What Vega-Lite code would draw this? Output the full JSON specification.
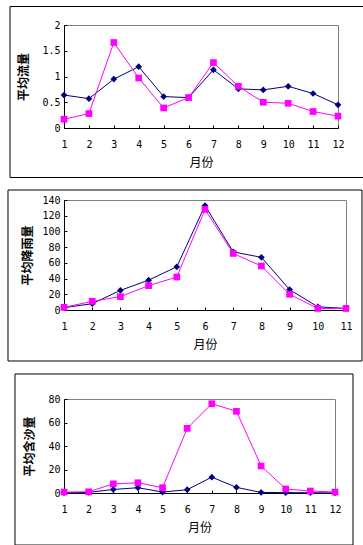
{
  "$schema": "https://vega.github.io/schema/vega-lite/v6.json",
  "padding": {"top": 5, "left": 6, "right": 0, "bottom": 0},
  "background": "white",
  "datasets": {
    "flow": [
      {"month": 1, "series": "系列1", "value": 0.64}, {"month": 2, "series": "系列1", "value": 0.57}, {"month": 3, "series": "系列1", "value": 0.95}, {"month": 4, "series": "系列1", "value": 1.19}, {"month": 5, "series": "系列1", "value": 0.61}, {"month": 6, "series": "系列1", "value": 0.59}, {"month": 7, "series": "系列1", "value": 1.13}, {"month": 8, "series": "系列1", "value": 0.76}, {"month": 9, "series": "系列1", "value": 0.74}, {"month": 10, "series": "系列1", "value": 0.81}, {"month": 11, "series": "系列1", "value": 0.67}, {"month": 12, "series": "系列1", "value": 0.45},
      {"month": 1, "series": "系列2", "value": 0.17}, {"month": 2, "series": "系列2", "value": 0.28}, {"month": 3, "series": "系列2", "value": 1.66}, {"month": 4, "series": "系列2", "value": 0.97}, {"month": 5, "series": "系列2", "value": 0.39}, {"month": 6, "series": "系列2", "value": 0.59}, {"month": 7, "series": "系列2", "value": 1.27}, {"month": 8, "series": "系列2", "value": 0.81}, {"month": 9, "series": "系列2", "value": 0.5}, {"month": 10, "series": "系列2", "value": 0.48}, {"month": 11, "series": "系列2", "value": 0.32}, {"month": 12, "series": "系列2", "value": 0.23}
    ],
    "rain": [
      {"month": 1, "series": "系列1", "value": 3}, {"month": 2, "series": "系列1", "value": 8}, {"month": 3, "series": "系列1", "value": 25}, {"month": 4, "series": "系列1", "value": 38}, {"month": 5, "series": "系列1", "value": 55}, {"month": 6, "series": "系列1", "value": 133}, {"month": 7, "series": "系列1", "value": 74}, {"month": 8, "series": "系列1", "value": 67}, {"month": 9, "series": "系列1", "value": 26}, {"month": 10, "series": "系列1", "value": 4}, {"month": 11, "series": "系列1", "value": 2},
      {"month": 1, "series": "系列2", "value": 3.4}, {"month": 2, "series": "系列2", "value": 11}, {"month": 3, "series": "系列2", "value": 17}, {"month": 4, "series": "系列2", "value": 31}, {"month": 5, "series": "系列2", "value": 42}, {"month": 6, "series": "系列2", "value": 128}, {"month": 7, "series": "系列2", "value": 72}, {"month": 8, "series": "系列2", "value": 56}, {"month": 9, "series": "系列2", "value": 20}, {"month": 10, "series": "系列2", "value": 2}, {"month": 11, "series": "系列2", "value": 2}
    ],
    "sediment": [
      {"month": 1, "series": "系列1", "value": 0.2}, {"month": 2, "series": "系列1", "value": 0.5}, {"month": 3, "series": "系列1", "value": 3}, {"month": 4, "series": "系列1", "value": 4.5}, {"month": 5, "series": "系列1", "value": 0.8}, {"month": 6, "series": "系列1", "value": 2.8}, {"month": 7, "series": "系列1", "value": 13.5}, {"month": 8, "series": "系列1", "value": 4.8}, {"month": 9, "series": "系列1", "value": 0.5}, {"month": 10, "series": "系列1", "value": 0.3}, {"month": 11, "series": "系列1", "value": 0.2}, {"month": 12, "series": "系列1", "value": 0.1},
      {"month": 1, "series": "系列2", "value": 0.8}, {"month": 2, "series": "系列2", "value": 1}, {"month": 3, "series": "系列2", "value": 7.8}, {"month": 4, "series": "系列2", "value": 8.7}, {"month": 5, "series": "系列2", "value": 4.5}, {"month": 6, "series": "系列2", "value": 55}, {"month": 7, "series": "系列2", "value": 76}, {"month": 8, "series": "系列2", "value": 69.5}, {"month": 9, "series": "系列2", "value": 23}, {"month": 10, "series": "系列2", "value": 3.4}, {"month": 11, "series": "系列2", "value": 1.7}, {"month": 12, "series": "系列2", "value": 0.8}
    ]
  },
  "columns": 1,
  "align": "each",
  "spacing": 10,
  "concat": [
    {
      "width": 274, "height": 103,
      "layer": [
        {"data": {"values": [{}]}, "mark": {"type": "rect", "fillOpacity": 0, "fill": "white", "stroke": "black", "strokeWidth": 1},
         "encoding": {
           "x": {"datum": -1.168, "type": "quantitative", "scale": {"domain": [1, 12], "nice": false, "zero": false}, "axis": {"title": "月份", "values": [1,2,3,4,5,6,7,8,9,10,11,12], "format": "d"}},
           "x2": {"datum": 13.04},
           "y": {"datum": -0.961, "type": "quantitative", "scale": {"domain": [0, 2], "nice": false, "zero": false}, "axis": {"title": "平均流量", "values": [0, 0.5, 1, 1.5, 2], "format": "~g", "titlePadding": 11}},
           "y2": {"datum": 2.359}}},
        {"data": {"name": "flow"}, "mark": {"type": "line", "strokeWidth": 1},
         "encoding": {
           "x": {"field": "month", "type": "quantitative", "scale": {"domain": [1, 12], "nice": false, "zero": false}, "axis": {"title": "月份", "values": [1,2,3,4,5,6,7,8,9,10,11,12], "format": "d"}},
           "y": {"field": "value", "type": "quantitative", "scale": {"domain": [0, 2], "nice": false, "zero": false}, "axis": {"title": "平均流量", "values": [0, 0.5, 1, 1.5, 2], "format": "~g", "titlePadding": 11}},
           "color": {"field": "series", "type": "nominal", "scale": {"domain": ["系列1", "系列2"], "range": ["#000080", "#FF00FF"]}, "legend": null}}},
        {"data": {"name": "flow"}, "mark": {"type": "point", "filled": true, "opacity": 1, "size": 45},
         "encoding": {
           "x": {"field": "month", "type": "quantitative", "scale": {"domain": [1, 12], "nice": false, "zero": false}, "axis": {"title": "月份", "values": [1,2,3,4,5,6,7,8,9,10,11,12], "format": "d"}},
           "y": {"field": "value", "type": "quantitative", "scale": {"domain": [0, 2], "nice": false, "zero": false}, "axis": {"title": "平均流量", "values": [0, 0.5, 1, 1.5, 2], "format": "~g", "titlePadding": 11}},
           "color": {"field": "series", "type": "nominal", "scale": {"domain": ["系列1", "系列2"], "range": ["#000080", "#FF00FF"]}, "legend": null},
           "shape": {"field": "series", "type": "nominal", "scale": {"domain": ["系列1", "系列2"], "range": ["diamond", "square"]}, "legend": null}}}
      ]
    },
    {
      "width": 282, "height": 110,
      "layer": [
        {"data": {"values": [{}]}, "mark": {"type": "rect", "fillOpacity": 0, "fill": "white", "stroke": "black", "strokeWidth": 1},
         "encoding": {
           "x": {"datum": -0.986, "type": "quantitative", "scale": {"domain": [1, 11], "nice": false, "zero": false}, "axis": {"title": "月份", "values": [1,2,3,4,5,6,7,8,9,10,11], "format": "d"}},
           "x2": {"datum": 11.567},
           "y": {"datum": -64.9, "type": "quantitative", "scale": {"domain": [0, 140], "nice": false, "zero": false}, "axis": {"title": "平均降雨量", "values": [0, 20, 40, 60, 80, 100, 120, 140], "format": "d", "titlePadding": 7}},
           "y2": {"datum": 152.7}}},
        {"data": {"name": "rain"}, "mark": {"type": "line", "strokeWidth": 1},
         "encoding": {
           "x": {"field": "month", "type": "quantitative", "scale": {"domain": [1, 11], "nice": false, "zero": false}, "axis": {"title": "月份", "values": [1,2,3,4,5,6,7,8,9,10,11], "format": "d"}},
           "y": {"field": "value", "type": "quantitative", "scale": {"domain": [0, 140], "nice": false, "zero": false}, "axis": {"title": "平均降雨量", "values": [0, 20, 40, 60, 80, 100, 120, 140], "format": "d", "titlePadding": 7}},
           "color": {"field": "series", "type": "nominal", "scale": {"domain": ["系列1", "系列2"], "range": ["#000080", "#FF00FF"]}, "legend": null}}},
        {"data": {"name": "rain"}, "mark": {"type": "point", "filled": true, "opacity": 1, "size": 45},
         "encoding": {
           "x": {"field": "month", "type": "quantitative", "scale": {"domain": [1, 11], "nice": false, "zero": false}, "axis": {"title": "月份", "values": [1,2,3,4,5,6,7,8,9,10,11], "format": "d"}},
           "y": {"field": "value", "type": "quantitative", "scale": {"domain": [0, 140], "nice": false, "zero": false}, "axis": {"title": "平均降雨量", "values": [0, 20, 40, 60, 80, 100, 120, 140], "format": "d", "titlePadding": 7}},
           "color": {"field": "series", "type": "nominal", "scale": {"domain": ["系列1", "系列2"], "range": ["#000080", "#FF00FF"]}, "legend": null},
           "shape": {"field": "series", "type": "nominal", "scale": {"domain": ["系列1", "系列2"], "range": ["diamond", "square"]}, "legend": null}}}
      ]
    },
    {
      "width": 271, "height": 94,
      "layer": [
        {"data": {"values": [{}]}, "mark": {"type": "rect", "fillOpacity": 0, "fill": "white", "stroke": "black", "strokeWidth": 1},
         "encoding": {
           "x": {"datum": -0.989, "type": "quantitative", "scale": {"domain": [1, 12], "nice": false, "zero": false}, "axis": {"title": "月份", "values": [1,2,3,4,5,6,7,8,9,10,11,12], "format": "d"}},
           "x2": {"datum": 12.731},
           "y": {"datum": -44.3, "type": "quantitative", "scale": {"domain": [0, 80], "nice": false, "zero": false}, "axis": {"title": "平均含沙量", "values": [0, 20, 40, 60, 80], "format": "d", "titlePadding": 11}},
           "y2": {"datum": 101.3}}},
        {"data": {"name": "sediment"}, "mark": {"type": "line", "strokeWidth": 1},
         "encoding": {
           "x": {"field": "month", "type": "quantitative", "scale": {"domain": [1, 12], "nice": false, "zero": false}, "axis": {"title": "月份", "values": [1,2,3,4,5,6,7,8,9,10,11,12], "format": "d"}},
           "y": {"field": "value", "type": "quantitative", "scale": {"domain": [0, 80], "nice": false, "zero": false}, "axis": {"title": "平均含沙量", "values": [0, 20, 40, 60, 80], "format": "d", "titlePadding": 11}},
           "color": {"field": "series", "type": "nominal", "scale": {"domain": ["系列1", "系列2"], "range": ["#000080", "#FF00FF"]}, "legend": null}}},
        {"data": {"name": "sediment"}, "mark": {"type": "point", "filled": true, "opacity": 1, "size": 45},
         "encoding": {
           "x": {"field": "month", "type": "quantitative", "scale": {"domain": [1, 12], "nice": false, "zero": false}, "axis": {"title": "月份", "values": [1,2,3,4,5,6,7,8,9,10,11,12], "format": "d"}},
           "y": {"field": "value", "type": "quantitative", "scale": {"domain": [0, 80], "nice": false, "zero": false}, "axis": {"title": "平均含沙量", "values": [0, 20, 40, 60, 80], "format": "d", "titlePadding": 11}},
           "color": {"field": "series", "type": "nominal", "scale": {"domain": ["系列1", "系列2"], "range": ["#000080", "#FF00FF"]}, "legend": null},
           "shape": {"field": "series", "type": "nominal", "scale": {"domain": ["系列1", "系列2"], "range": ["diamond", "square"]}, "legend": null}}}
      ]
    }
  ],
  "config": {
    "view": {"stroke": "#808080", "strokeWidth": 1},
    "axis": {"grid": false, "domainColor": "black", "tickColor": "black", "labelColor": "black", "titleColor": "black", "labelFont": "DejaVu Sans Mono", "labelFontSize": 10, "titleFont": "Noto Sans CJK SC", "titleFontSize": 12, "tickSize": -3, "labelOverlap": false, "labelFlush": false, "labelBound": false},
    "axisX": {"titleFontWeight": "normal", "titlePadding": 8, "labelPadding": 14},
    "axisY": {"titleFontWeight": "bold", "labelPadding": 7}
  }
}
